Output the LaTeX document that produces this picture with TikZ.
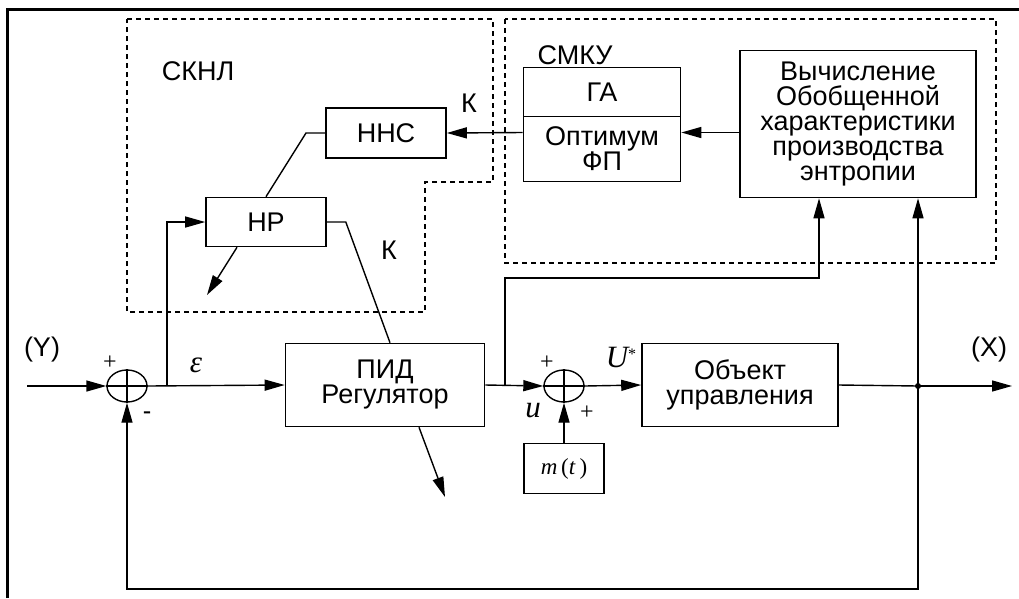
\documentclass[tikz,border=0pt]{standalone}
\usepackage{fontspec}
\setmainfont{Liberation Sans}
\newfontfamily\timesfont{Liberation Serif}
\usetikzlibrary{shapes,shapes.geometric,arrows.meta,positioning}
\tikzstyle{block} = [rectangle, draw, line width=1.6pt, align=center, inner sep=2pt]
\tikzstyle{line} = [draw, line width=1.4pt, -{Triangle[length=20pt,width=11pt]}]
\tikzstyle{wire} = [draw, line width=1.4pt]
\tikzstyle{sum} = [ellipse, draw, line width=1.4pt, minimum width=40pt, minimum height=32pt, inner sep=0pt]
\tikzstyle{region} = [draw, line width=1.3pt, dash pattern=on 5pt off 4pt]
\tikzstyle{sign} = [font=\timesfont\fontsize{24}{24}\selectfont, inner sep=0pt]
\tikzstyle{mathlbl} = [font=\timesfont\itshape\fontsize{31}{31}\selectfont, inner sep=0pt]

\begin{document}
\begin{tikzpicture}[x=1pt,y=-1pt,font=\fontsize{27}{25}\selectfont]
    \useasboundingbox (0,0) rectangle (1019,598);
    \draw[line width=3pt] (7,598) -- (7,9) -- (1019,9);
    % Dashed regions
    \draw[region] (127,19) -- (493,19) -- (493,182) -- (425,182) -- (425,312) -- (127,312) -- cycle;
    \draw[region] (505,19) rectangle (996,263);
    % Place nodes
    \node[block, minimum width=120pt, minimum height=50pt] (nns) at (386,133) {ННС};
    \node[block, minimum width=120pt, minimum height=49pt] (hr) at (266,222) {НР};
    \node[block, minimum width=157pt, minimum height=49pt] (ga) at (602,92) {ГА};
    \node[block, minimum width=157pt, minimum height=65pt, below=-1.6pt of ga] (opt) {Оптимум\\ФП};
    \node[block, minimum width=236pt, minimum height=147pt] (ent) at (858,124) {Вычисление\\Обобщенной\\характеристики\\производства\\энтропии};
    \node[sum] (s1) at (127,386) {};
    \node[block, minimum width=199pt, minimum height=83pt] (pid) at (385,385) {ПИД\\Регулятор};
    \node[sum] (s2) at (564,386) {};
    \node[block, minimum width=196pt, minimum height=83pt] (obj) at (740,385) {Объект\\управления};
    \node[block, minimum width=80pt, minimum height=50pt, below=40pt of s2, font=\timesfont\fontsize{23}{23}\selectfont] (mt) {\textit{m}\,(\textit{t}\,)};
    \coordinate (in) at (27,386);
    \coordinate (out) at (1012,386);
    \coordinate (jn) at (918,386);
    \coordinate (b1) at (167,386);
    \coordinate (b2) at (505,386);
    \coordinate (b2up) at (505,278);
    \coordinate (fb) at (918,589);
    \coordinate (hrbend) at (306,133);
    \coordinate (hrout) at (207,295);
    \coordinate (pidout) at (445,497);
    % Labels
    \node (lskn) at (198,71) {СКНЛ};
    \node (lk1) at (469,103) {К};
    \node (lk2) at (389,250) {К};
    \node (lsmku) at (575,55) {СМКУ};
    \node (ly) at (42,350) {(Y)};
    \node (lx) at (989,350) {(X)};
    \node[mathlbl] (leps) at (196,365) {ε};
    \node[mathlbl] (lus) at (621,357) {U\raisebox{0.5ex}{\upshape\fontsize{16}{16}\selectfont *}};
    \node[mathlbl] (lu) at (533,411) {u};
    \node[sign] (p1) at (110,363) {+};
    \node[sign] (m1) at (147,415) {\bfseries -};
    \node[sign] (p2) at (547,363) {+};
    \node[sign] (p3) at (587,413) {+};
    % Sum crosses
    \draw[wire] (s1.north) -- (s1.south) (s1.west) -- (s1.east);
    \draw[wire] (s2.north) -- (s2.south) (s2.west) -- (s2.east);
    % Draw edges
    \path [line] (in) -- (s1.west);
    \path [line] (s1.east) -- (pid.west);
    \path [line] (b1) |- (hr.west);
    \path [wire] (hr.north) -- (hrbend) -- (nns.west);
    \path [wire] (hr.east) -- ++(19,0) -- ([xshift=5pt]pid.north);
    \path [line] ([xshift=-29pt]hr.south) -- (hrout);
    \path [line] ([xshift=34pt]pid.south) -- (pidout);
    \path [line] (pid.east) -- (s2.west);
    \path [line] (b2) -- (b2up) -| ([xshift=-39pt]ent.south);
    \path [line] (s2.east) -- (obj.west);
    \path [line] (mt.north) -- (s2.south);
    \path [wire] (obj.east) -- (jn);
    \path [line] (jn) -- (out);
    \path [line] (jn) -- ([xshift=60pt]ent.south);
    \path [line] (jn) -- (fb) -| (s1.south);
    \path [line] ([yshift=-8.5pt]ent.west) -- ([yshift=16.5pt]opt.east);
    \path [line] ([yshift=16.5pt]opt.west) -- (nns.east);
    \fill (jn) circle (3pt);
\end{tikzpicture}
\end{document}
